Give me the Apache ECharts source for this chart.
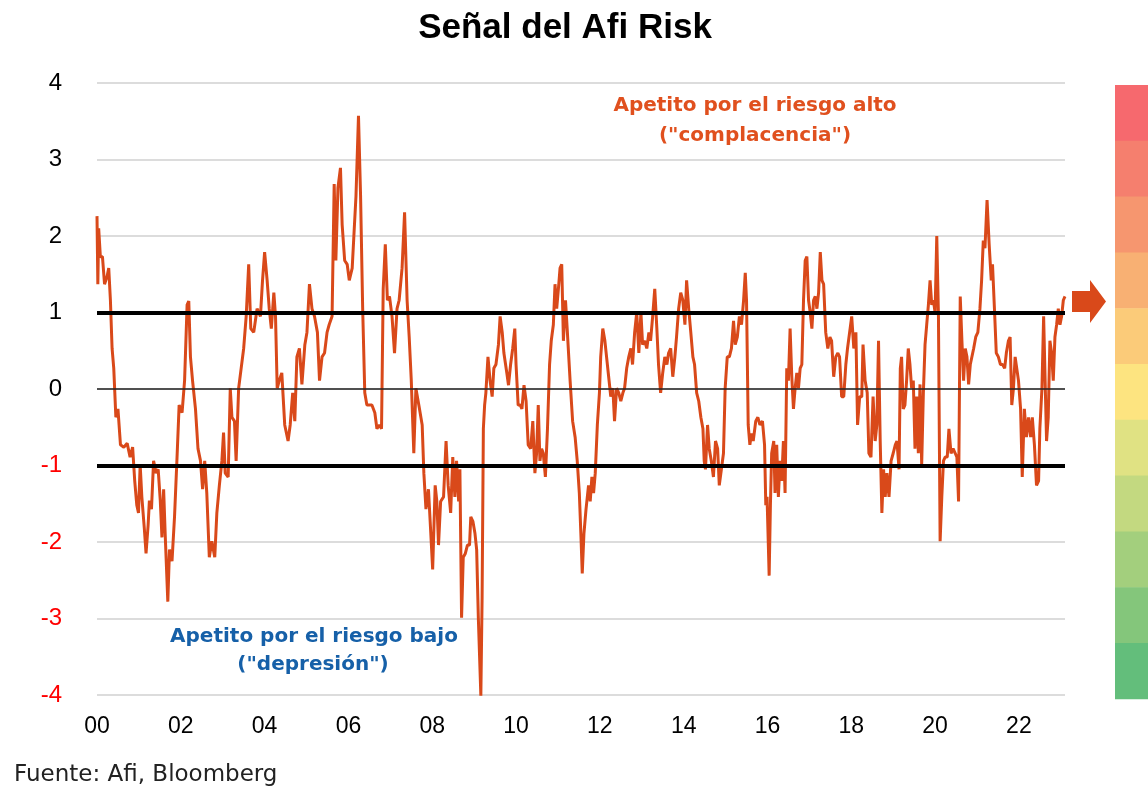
<!DOCTYPE html>
<html>
<head>
<meta charset="utf-8">
<script src="https://cdn.jsdelivr.net/npm/echarts@6/dist/echarts.min.js"></script>
<style>
  html, body { margin: 0; padding: 0; background: #fff; }
  #main { width: 1148px; height: 786px; }
</style>
</head>
<body>
<div id="main"></div>
<script>
// Afi Risk signal: [decimal year, value]
const signal = [
  [2000.00, 2.26], [2000.02, 1.37], [2000.04, 2.10], [2000.08, 1.73], [2000.13, 1.73], [2000.18, 1.37],
  [2000.24, 1.47], [2000.28, 1.58], [2000.32, 1.16], [2000.36, 0.53], [2000.40, 0.27], [2000.45, -0.37],
  [2000.50, -0.26], [2000.56, -0.73], [2000.64, -0.76], [2000.72, -0.71], [2000.79, -0.89], [2000.85, -0.76],
  [2000.90, -1.20], [2000.95, -1.52], [2000.99, -1.62], [2001.03, -0.99], [2001.07, -1.41], [2001.13, -1.83],
  [2001.17, -2.15], [2001.22, -1.78], [2001.25, -1.46], [2001.30, -1.57], [2001.35, -0.94], [2001.41, -1.10],
  [2001.46, -1.05], [2001.51, -1.46], [2001.55, -1.94], [2001.59, -1.31], [2001.63, -1.94], [2001.69, -2.78],
  [2001.73, -2.10], [2001.79, -2.25], [2001.85, -1.67], [2001.91, -0.89], [2001.96, -0.21], [2002.03, -0.31],
  [2002.09, 0.11], [2002.15, 1.10], [2002.19, 1.15], [2002.23, 0.42], [2002.28, 0.11], [2002.35, -0.26],
  [2002.41, -0.78], [2002.47, -0.94], [2002.52, -1.31], [2002.57, -0.94], [2002.62, -1.36], [2002.68, -2.20],
  [2002.74, -1.99], [2002.81, -2.20], [2002.86, -1.62], [2002.92, -1.26], [2002.98, -0.94], [2003.02, -0.57],
  [2003.06, -1.10], [2003.13, -1.15], [2003.18, 0.01], [2003.22, -0.37], [2003.28, -0.42], [2003.32, -0.94],
  [2003.38, 0.01], [2003.44, 0.27], [2003.50, 0.53], [2003.56, 0.95], [2003.62, 1.63], [2003.67, 0.79],
  [2003.74, 0.74], [2003.82, 1.05], [2003.90, 0.95], [2003.95, 1.42], [2004.00, 1.79], [2004.06, 1.42],
  [2004.11, 1.05], [2004.16, 0.79], [2004.22, 1.26], [2004.26, 0.95], [2004.30, 0.01], [2004.35, 0.11],
  [2004.41, 0.21], [2004.48, -0.47], [2004.56, -0.68], [2004.61, -0.47], [2004.67, -0.05], [2004.72, -0.42],
  [2004.77, 0.42], [2004.83, 0.53], [2004.89, 0.06], [2004.96, 0.58], [2005.01, 0.74], [2005.07, 1.37],
  [2005.13, 1.05], [2005.19, 0.95], [2005.26, 0.74], [2005.31, 0.11], [2005.37, 0.42], [2005.43, 0.47],
  [2005.49, 0.74], [2005.54, 0.84], [2005.61, 0.95], [2005.66, 2.68], [2005.70, 1.68], [2005.75, 2.63],
  [2005.81, 2.89], [2005.85, 2.15], [2005.91, 1.68], [2005.97, 1.63], [2006.02, 1.42], [2006.09, 1.58],
  [2006.13, 2.00], [2006.18, 2.52], [2006.24, 3.57], [2006.29, 2.52], [2006.34, 1.05], [2006.39, -0.05],
  [2006.44, -0.21], [2006.50, -0.21], [2006.56, -0.21], [2006.63, -0.31], [2006.68, -0.52], [2006.74, -0.47],
  [2006.79, -0.52], [2006.83, 1.31], [2006.88, 1.89], [2006.93, 1.16], [2006.98, 1.21], [2007.04, 0.95],
  [2007.10, 0.47], [2007.16, 1.05], [2007.21, 1.16], [2007.28, 1.58], [2007.34, 2.31], [2007.40, 1.16],
  [2007.45, 0.68], [2007.50, 0.11], [2007.56, -0.84], [2007.61, 0.01], [2007.68, -0.21], [2007.76, -0.47],
  [2007.80, -1.10], [2007.85, -1.57], [2007.91, -1.31], [2007.96, -1.83], [2008.01, -2.36], [2008.07, -1.26],
  [2008.11, -1.47], [2008.15, -2.04], [2008.20, -1.47], [2008.27, -1.41], [2008.33, -0.68], [2008.38, -1.26],
  [2008.44, -1.62], [2008.49, -0.89], [2008.54, -1.41], [2008.58, -0.94], [2008.63, -1.47], [2008.66, -1.05],
  [2008.70, -2.99], [2008.74, -2.20], [2008.79, -2.15], [2008.84, -2.04], [2008.89, -2.04], [2008.92, -1.67],
  [2008.97, -1.73], [2009.02, -1.89], [2009.06, -2.10], [2009.10, -2.99], [2009.16, -4.01], [2009.19, -2.73],
  [2009.22, -0.52], [2009.25, -0.21], [2009.28, -0.05], [2009.33, 0.42], [2009.38, 0.11], [2009.43, -0.10],
  [2009.47, 0.27], [2009.52, 0.32], [2009.58, 0.58], [2009.62, 0.95], [2009.67, 0.74], [2009.71, 0.47],
  [2009.78, 0.21], [2009.82, 0.05], [2009.87, 0.32], [2009.92, 0.53], [2009.97, 0.79], [2010.00, 0.32],
  [2010.05, -0.21], [2010.10, -0.21], [2010.14, -0.26], [2010.19, 0.05], [2010.24, -0.16], [2010.29, -0.73],
  [2010.35, -0.78], [2010.40, -0.42], [2010.45, -1.10], [2010.49, -0.84], [2010.53, -0.21], [2010.57, -0.94],
  [2010.61, -0.78], [2010.65, -0.84], [2010.70, -1.15], [2010.75, -0.52], [2010.80, 0.32], [2010.84, 0.63],
  [2010.89, 0.84], [2010.93, 1.37], [2010.97, 1.05], [2011.02, 1.37], [2011.05, 1.58], [2011.09, 1.63],
  [2011.13, 0.63], [2011.18, 1.16], [2011.22, 0.79], [2011.29, 0.11], [2011.35, -0.42], [2011.41, -0.63],
  [2011.46, -0.94], [2011.51, -1.36], [2011.55, -1.94], [2011.58, -2.41], [2011.62, -1.89], [2011.67, -1.57],
  [2011.73, -1.26], [2011.77, -1.47], [2011.81, -1.15], [2011.85, -1.36], [2011.89, -1.10], [2011.94, -0.47],
  [2011.99, -0.05], [2012.02, 0.42], [2012.07, 0.79], [2012.12, 0.63], [2012.16, 0.42], [2012.21, 0.16],
  [2012.26, -0.10], [2012.31, 0.01], [2012.35, -0.42], [2012.40, 0.01], [2012.45, -0.05], [2012.50, -0.16],
  [2012.55, -0.05], [2012.59, 0.01], [2012.64, 0.27], [2012.69, 0.42], [2012.74, 0.53], [2012.78, 0.32],
  [2012.83, 0.74], [2012.88, 1.00], [2012.93, 0.47], [2012.98, 1.00], [2013.02, 0.58], [2013.07, 0.63],
  [2013.12, 0.53], [2013.17, 0.74], [2013.21, 0.63], [2013.26, 0.95], [2013.31, 1.31], [2013.36, 0.79],
  [2013.40, 0.32], [2013.45, -0.05], [2013.50, 0.21], [2013.55, 0.42], [2013.60, 0.32], [2013.64, 0.47],
  [2013.69, 0.53], [2013.74, 0.16], [2013.79, 0.42], [2013.83, 0.68], [2013.88, 1.05], [2013.93, 1.26],
  [2013.98, 1.16], [2014.03, 0.84], [2014.07, 1.42], [2014.12, 1.05], [2014.17, 0.74], [2014.22, 0.42],
  [2014.26, 0.32], [2014.31, -0.05], [2014.36, -0.16], [2014.41, -0.37], [2014.46, -0.52], [2014.49, -0.94],
  [2014.52, -1.05], [2014.57, -0.47], [2014.61, -0.78], [2014.66, -0.94], [2014.71, -1.15], [2014.76, -0.68],
  [2014.81, -0.78], [2014.85, -1.26], [2014.90, -1.05], [2014.95, -0.84], [2014.99, 0.01], [2015.04, 0.42],
  [2015.09, 0.42], [2015.14, 0.53], [2015.19, 0.89], [2015.23, 0.58], [2015.28, 0.68], [2015.33, 0.95],
  [2015.38, 0.84], [2015.43, 1.16], [2015.47, 1.52], [2015.50, 1.16], [2015.54, -0.47], [2015.58, -0.73],
  [2015.62, -0.58], [2015.66, -0.68], [2015.72, -0.42], [2015.77, -0.37], [2015.82, -0.47], [2015.88, -0.42],
  [2015.93, -0.73], [2015.96, -1.52], [2015.99, -1.41], [2016.04, -2.44], [2016.07, -1.52], [2016.10, -0.84],
  [2016.15, -0.68], [2016.18, -1.36], [2016.22, -0.73], [2016.26, -1.41], [2016.30, -0.94], [2016.34, -1.20],
  [2016.38, -0.68], [2016.42, -1.36], [2016.46, 0.27], [2016.50, 0.11], [2016.54, 0.79], [2016.58, 0.16],
  [2016.62, -0.26], [2016.66, 0.01], [2016.70, 0.21], [2016.74, 0.01], [2016.78, 0.27], [2016.82, 0.32],
  [2016.86, 1.16], [2016.90, 1.68], [2016.94, 1.73], [2016.98, 1.16], [2017.02, 1.00], [2017.06, 0.79],
  [2017.10, 1.16], [2017.14, 1.21], [2017.18, 1.05], [2017.22, 1.26], [2017.26, 1.79], [2017.30, 1.42],
  [2017.34, 1.37], [2017.39, 0.74], [2017.44, 0.53], [2017.49, 0.68], [2017.53, 0.63], [2017.58, 0.16],
  [2017.63, 0.42], [2017.68, 0.47], [2017.72, 0.42], [2017.77, -0.10], [2017.82, -0.10], [2017.87, 0.32],
  [2017.91, 0.53], [2017.96, 0.74], [2018.01, 0.95], [2018.06, 0.53], [2018.11, 0.74], [2018.15, -0.47],
  [2018.20, -0.10], [2018.25, -0.10], [2018.28, 0.58], [2018.33, 0.11], [2018.38, -0.05], [2018.42, -0.84],
  [2018.47, -0.89], [2018.52, -0.10], [2018.57, -0.68], [2018.61, -0.47], [2018.65, 0.63], [2018.69, -0.68],
  [2018.73, -1.62], [2018.77, -1.05], [2018.81, -1.41], [2018.85, -1.10], [2018.90, -1.41], [2018.95, -0.94],
  [2019.00, -0.84], [2019.05, -0.73], [2019.09, -0.68], [2019.14, -1.05], [2019.17, 0.27], [2019.20, 0.42],
  [2019.24, -0.26], [2019.28, -0.21], [2019.32, 0.11], [2019.36, 0.53], [2019.40, 0.32], [2019.44, 0.01],
  [2019.48, 0.11], [2019.52, -0.78], [2019.56, -0.10], [2019.60, -0.84], [2019.64, 0.06], [2019.68, -0.99],
  [2019.72, -0.05], [2019.76, 0.58], [2019.80, 0.84], [2019.84, 1.10], [2019.88, 1.42], [2019.92, 1.10],
  [2019.96, 1.16], [2020.00, 1.00], [2020.04, 2.00], [2020.08, 0.95], [2020.12, -1.99], [2020.16, -1.41],
  [2020.20, -0.94], [2020.24, -0.89], [2020.29, -0.89], [2020.33, -0.52], [2020.38, -0.84], [2020.43, -0.78],
  [2020.48, -0.84], [2020.52, -0.89], [2020.56, -1.47], [2020.60, 1.21], [2020.64, 0.63], [2020.68, 0.11],
  [2020.72, 0.53], [2020.76, 0.42], [2020.80, 0.06], [2020.84, 0.32], [2020.88, 0.32], [2020.92, 0.53],
  [2020.97, 0.68], [2021.02, 0.74], [2021.07, 1.05], [2021.11, 1.42], [2021.15, 1.94], [2021.19, 1.84],
  [2021.24, 2.47], [2021.29, 1.89], [2021.34, 1.42], [2021.37, 1.63], [2021.42, 1.00], [2021.46, 0.47],
  [2021.51, 0.42], [2021.56, 0.32], [2021.61, 0.32], [2021.66, 0.27], [2021.70, 0.47], [2021.75, 0.63],
  [2021.79, 0.68], [2021.83, -0.21], [2021.87, 0.01], [2021.91, 0.42], [2021.95, 0.42], [2021.99, 0.11],
  [2022.04, -0.26], [2022.08, -1.15], [2022.13, -0.26], [2022.18, -0.63], [2022.23, -0.37], [2022.28, -0.63],
  [2022.32, -0.37], [2022.37, -0.73], [2022.42, -1.26], [2022.47, -1.20], [2022.50, -0.52], [2022.55, 0.01],
  [2022.59, 0.95], [2022.63, 0.01], [2022.66, -0.68], [2022.70, -0.37], [2022.74, 0.63], [2022.78, 0.47],
  [2022.82, 0.11], [2022.86, 0.68], [2022.90, 0.84], [2022.94, 1.05], [2022.98, 0.84], [2023.02, 0.95],
  [2023.06, 1.16], [2023.10, 1.21]
];

// reference levels
const thresholds = [1, -1];
const zeroLevel = 0;

// risk-appetite scale on the right, top (red) to bottom (green)
const bandColors = [
  '#f6696e', '#f57f6e', '#f6966f', '#f8b073', '#fbcb79', '#fde480',
  '#e0e283', '#c3d980', '#a3cf7d', '#84c67b', '#63be7b'
];

const chart = echarts.init(document.getElementById('main'));

const bands = bandColors.map((c, i) => ({
  type: 'rect',
  shape: { x: 1115, y: 85 + i * 55.8, width: 40, height: 56.3 },
  style: { fill: c },
  silent: true
}));

// centred text block placed by its anchor point
const note = (text, x, y, fill) => ({
  type: 'text', x: x, y: y, silent: true,
  style: { text: text, align: 'center', verticalAlign: 'middle', fill: fill,
    font: 'bold 20px "DejaVu Sans"' }
});

chart.setOption({
  backgroundColor: '#ffffff',
  animation: false,
  title: {
    text: 'Señal del Afi Risk',
    left: 560,
    top: 6,
    textAlign: 'center',
    textStyle: { fontFamily: 'Liberation Sans', fontWeight: 'bold', fontSize: 35, color: '#000' }
  },
  grid: { left: 97, right: 83, top: 83, bottom: 91 },
  xAxis: {
    type: 'value',
    min: 2000,
    max: 2023.1,
    interval: 2,
    axisLine: { show: false },
    axisTick: { show: false },
    splitLine: { show: false },
    axisLabel: {
      showMaxLabel: false,
      margin: 20,
      fontFamily: 'Liberation Sans',
      fontSize: 23,
      color: '#000',
      formatter: v => String(v).slice(2)
    }
  },
  yAxis: {
    type: 'value',
    min: -4,
    max: 4,
    interval: 1,
    axisLine: { show: false },
    axisTick: { show: false },
    splitLine: { lineStyle: { color: '#dcdcdc', width: 2 } },
    axisLabel: {
      margin: 35,
      fontFamily: 'Liberation Sans',
      fontSize: 24,
      color: v => (v < 0 ? '#ff0000' : '#000000')
    }
  },
  series: [
    {
      type: 'line',
      data: [],
      z: 1,
      markLine: {
        silent: true,
        symbol: 'none',
        label: { show: false },
        data: [
          ...thresholds.map(t => ({ yAxis: t, lineStyle: { color: '#000', width: 4, type: 'solid' } })),
          { yAxis: zeroLevel, lineStyle: { color: '#222', width: 1.5, type: 'solid' } }
        ]
      }
    },
    {
      name: 'Afi Risk',
      type: 'line',
      data: signal,
      z: 3,
      showSymbol: false,
      lineStyle: { color: '#d9491a', width: 3 }
    }
  ],
  graphic: [
    note('Apetito por el riesgo alto', 755, 106, '#e0501e'),
    note('("complacencia")', 755, 136, '#e0501e'),
    note('Apetito por el riesgo bajo', 314, 637, '#1660a8'),
    note('("depresión")', 313, 665, '#1660a8'),
    {
      type: 'text', x: 14, y: 775, silent: true,
      style: { text: 'Fuente: Afi, Bloomberg', verticalAlign: 'middle', fill: '#222',
        font: '23px "DejaVu Sans"' }
    },
    ...bands,
    {
      type: 'polygon',
      silent: true,
      shape: {
        points: [[1072, 291], [1090, 291], [1090, 280], [1106, 301.5], [1090, 323], [1090, 312], [1072, 312]]
      },
      style: { fill: '#d9491a' }
    }
  ]
});
</script>
</body>
</html>
